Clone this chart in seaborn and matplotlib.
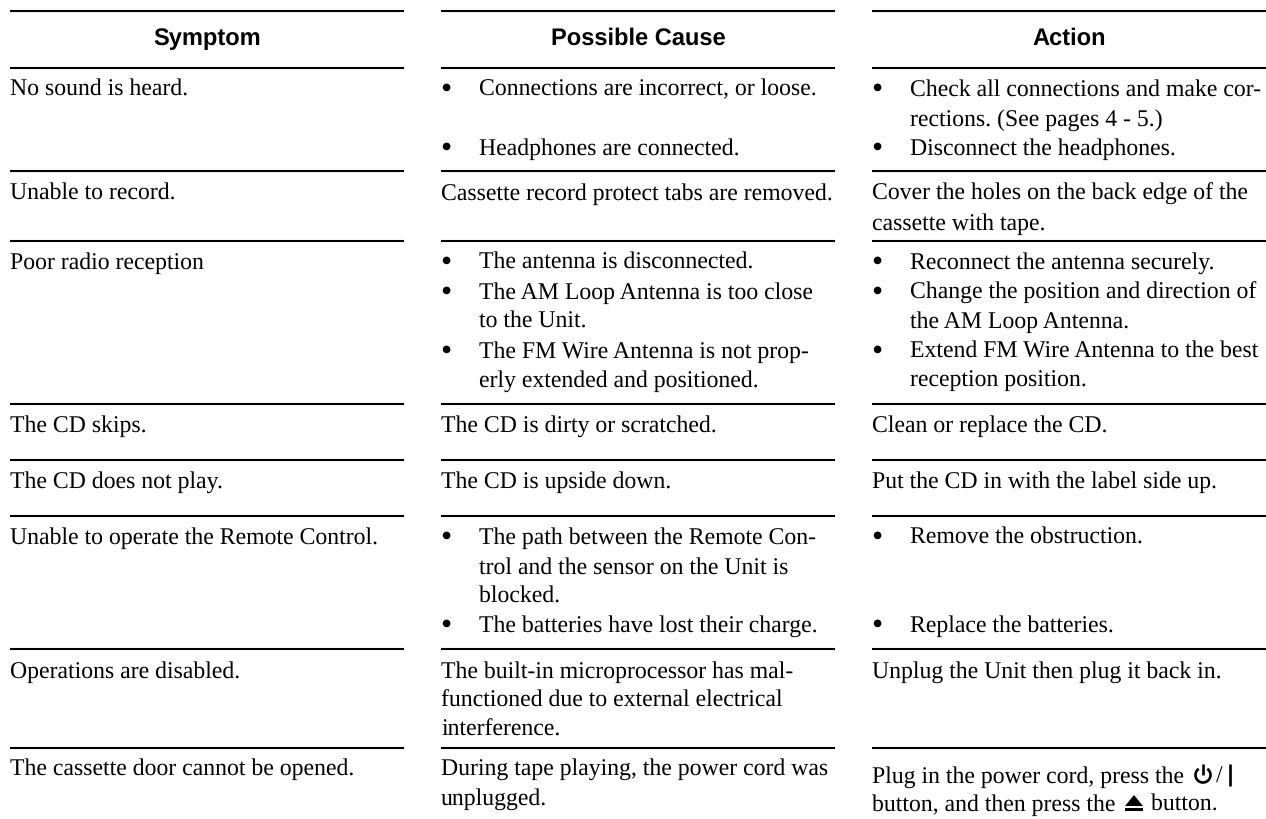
import pandas as pd
import matplotlib
matplotlib.use("Agg")
import matplotlib.pyplot as plt
from matplotlib.patches import Arc, Polygon, Rectangle
import seaborn as sns

# table content
headers = ["Symptom", "Possible Cause", "Action"]

symptom_lines = [
    "No sound is heard.", "Unable to record.", "Poor radio reception", "The CD skips.",
    "The CD does not play.", "Unable to operate the Remote Control.",
    "Operations are disabled.", "The cassette door cannot be opened.",
]
cause_lines = [
    "Connections are incorrect, or loose.", "Headphones are connected.",
    "The antenna is disconnected.", "The AM Loop Antenna is too close", "to the Unit.",
    "The FM Wire Antenna is not prop-", "erly extended and positioned.",
    "The path between the Remote Con-", "trol and the sensor on the Unit is", "blocked.",
    "The batteries have lost their charge.",
]
cause_plain_lines = [
    "Cassette record protect tabs are removed.", "The CD is dirty or scratched.",
    "The CD is upside down.", "The built-in microprocessor has mal-",
    "functioned due to external electrical", "interference.",
    "During tape playing, the power cord was", "unplugged.",
]
action_lines = [
    "Check all connections and make cor-", "rections. (See pages 4 - 5.)",
    "Disconnect the headphones.", "Reconnect the antenna securely.",
    "Change the position and direction of", "the AM Loop Antenna.",
    "Extend FM Wire Antenna to the best", "reception position.",
    "Remove the obstruction.", "Replace the batteries.",
]
action_plain_lines = [
    "Cover the holes on the back edge of the", "cassette with tape.",
    "Clean or replace the CD.", "Put the CD in with the label side up.",
    "Unplug the Unit then plug it back in.",
    "Plug in the power cord, press the", "button, and then press the",
]

# layout, in pixels from the top left corner
col_left = [10, 441, 872]
col_right = [404, 835, 1266]
rule_y = [12, 69, 172, 242, 405, 461, 517, 650, 749]
symptom_y = [95.5, 199.5, 268.5, 431.5, 487.5, 543.5, 677.5, 774.5]
cause_y = [95.5, 154.5, 268.5, 298.5, 327.5, 357.5, 386.5, 543.5, 573.5, 602.5, 631.5]
cause_plain_y = [199.5, 431.5, 487.5, 677.5, 706.5, 735.5, 774.5, 804.5]
cause_bullet_y = [98, 157, 271, 301, 360, 546, 634]
action_y = [95.5, 125.5, 154.5, 268.5, 298.5, 327.5, 357.5, 386.5, 543.5, 631.5]
action_plain_y = [199.5, 229.5, 431.5, 487.5, 677.5, 782.5, 810.5]
action_bullet_y = [98, 157, 271, 301, 360, 546, 634]

sns.set_theme(style="white")
plt.rcParams["font.family"] = ["Liberation Serif", "DejaVu Serif"]
plt.rcParams["text.hinting"] = "no_hinting"

fig = plt.figure(figsize=(12.66, 8.2), dpi=100)
ax = fig.add_axes([0, 0, 1, 1])

rules = pd.DataFrame(
    [
        {"rule": f"{c}-{y}", "x": x, "y": y}
        for y in rule_y
        for c in range(3)
        for x in (col_left[c], col_right[c])
    ]
)
sns.lineplot(
    data=rules, x="x", y="y", units="rule", estimator=None, color="black",
    linewidth=1.5, solid_capstyle="butt", ax=ax, legend=False,
)
ax.set_xlim(0, 1266)
ax.set_ylim(820, 0)
ax.axis("off")

body = dict(fontsize=17.15, color="black", va="baseline", ha="left")
bullet = dict(fontsize=23, color="black", va="baseline", ha="left")

for c, label in enumerate(headers):
    ax.text((col_left[c] + col_right[c]) / 2, 45, label, family="Liberation Sans",
            fontweight="bold", fontsize=17, color="black", ha="center", va="baseline")

for text, y in zip(symptom_lines, symptom_y):
    ax.text(col_left[0], y, text, **body)
for text, y in zip(cause_lines, cause_y):
    ax.text(479, y, text, **body)
for text, y in zip(cause_plain_lines, cause_plain_y):
    ax.text(col_left[1], y, text, **body)
for text, y in zip(action_lines, action_y):
    ax.text(910, y, text, **body)
for text, y in zip(action_plain_lines, action_plain_y):
    ax.text(col_left[2], y, text, **body)
for y in cause_bullet_y:
    ax.text(col_left[1] - 1, y, "\u2022", **bullet)
for y in action_bullet_y:
    ax.text(col_left[2] - 1, y, "\u2022", **bullet)

# last action line: power and eject symbols sit inline
ax.text(1216, 782.5, "/", **body)
ax.text(1151, 810.5, "button.", **body)
ax.add_patch(Arc((1203, 776), 15, 15, theta1=-55, theta2=235, lw=1.9, color="black"))
ax.plot([1203, 1203], [765, 776], color="black", lw=1.9, solid_capstyle="butt")
ax.plot([1230, 1230], [765, 787], color="black", lw=1.9, solid_capstyle="butt")
ax.add_patch(Polygon([(1125, 807), (1143, 807), (1134, 796)], color="black", lw=0))
ax.add_patch(Rectangle((1125, 809), 18, 3, color="black", lw=0))

fig.savefig("out.png", dpi=100, facecolor="white")
